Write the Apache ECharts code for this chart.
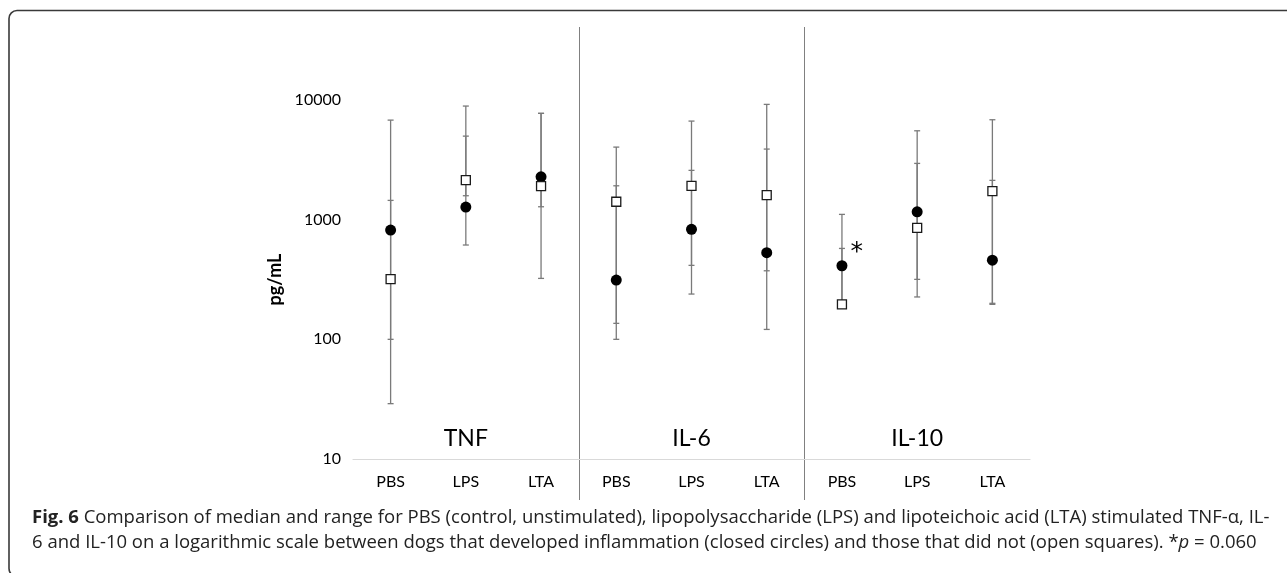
<!DOCTYPE html>
<html><head><meta charset="utf-8">
<script src="https://cdn.jsdelivr.net/npm/echarts@6/dist/echarts.min.js"></script>
<style>html,body{margin:0;padding:0;background:#fff}#c{width:1287px;height:573px}</style>
</head><body><div id="c"></div>
<script>
// ---- data ----
const categories = ['PBS','LPS','LTA','PBS','LPS','LTA','PBS','LPS','LTA'];
const groups = ['TNF','IL-6','IL-10'];
const yTicks = [10, 100, 1000, 10000];
// closed circles: developed inflammation
const circleMedian = [819, 1275, 2280, 313, 830, 530, 412, 1164, 459];
const circleLow    = [100, 614, 1282, 100, 239, 121, 200, 317, 196];
const circleHigh   = [6790, 4990, 7730, 1919, 2582, 3890, 1107, 5530, 2130];
// open squares: did not develop inflammation
const squareMedian = [319, 2140, 1909, 1412, 1919, 1606, 196, 855, 1734];
const squareLow    = [29, 1585, 323, 136, 415, 374, 196, 226, 200];
const squareHigh   = [1449, 8900, 7730, 4040, 6665, 9190, 575, 2952, 6840];
const asteriskIndex = 6;

// ---- layout ----
const W = 1287, H = 573;
const GRID = {left: 353, right: 257, top: 100, bottom: 114};
const gridH = H - GRID.top - GRID.bottom;
const FONT = 'Lato, "Open Sans", sans-serif';
const CAP_FONT = '"Open Sans", "Noto Sans", sans-serif';

const chart = echarts.init(document.getElementById('c'), null, {renderer: 'canvas'});

function errRender(params, api) {
  const x = api.value(0), lo = api.value(1), hi = api.value(2);
  const a = api.coord([x, lo]), b = api.coord([x, hi]);
  const cw = 3;
  const st = {stroke: '#7a7a7a', lineWidth: 1.3};
  return {type: 'group', children: [
    {type: 'line', shape: {x1: a[0], y1: a[1], x2: b[0], y2: b[1]}, style: st},
    {type: 'line', shape: {x1: a[0]-cw, y1: a[1], x2: a[0]+cw, y2: a[1]}, style: st},
    {type: 'line', shape: {x1: b[0]-cw, y1: b[1], x2: b[0]+cw, y2: b[1]}, style: st}
  ]};
}

const circErr = categories.map((c, i) => [i, circleLow[i], circleHigh[i]]);
const sqErr = categories.map((c, i) => [i, squareLow[i], squareHigh[i]]);
const circPts = categories.map((c, i) => {
  const d = {value: [i, circleMedian[i]]};
  if (i === asteriskIndex) {
    d.label = {show: true, formatter: '*', position: 'right', distance: 3, offset: [0, -13],
      fontSize: 25, fontFamily: '"DejaVu Sans", sans-serif', color: '#000'};
  }
  return d;
});
const sqPts = categories.map((c, i) => [i, squareMedian[i]]);

const option = {
  animation: false,
  backgroundColor: '#fff',
  grid: {left: GRID.left, right: GRID.right, top: GRID.top, bottom: GRID.bottom, containLabel: false},
  xAxis: [{
    type: 'category', data: categories, boundaryGap: true,
    axisLine: {show: true, lineStyle: {color: '#d9d9d9', width: 1.2}},
    axisTick: {show: false},
    axisLabel: {fontSize: 16, fontFamily: FONT, color: '#000', margin: 15, interval: 0},
    splitLine: {show: false}
  }, {
    type: 'category', data: groups, boundaryGap: true, position: 'top', offset: -gridH,
    axisLine: {show: false}, axisTick: {show: false},
    axisLabel: {fontSize: 23, fontFamily: FONT, color: '#000', margin: 9, interval: 0},
    splitLine: {show: false}
  }],
  yAxis: {
    type: 'log', logBase: 10, min: yTicks[0], max: yTicks[yTicks.length - 1],
    axisLine: {show: false}, axisTick: {show: false}, splitLine: {show: false},
    axisLabel: {fontSize: 16, fontFamily: FONT, color: '#000', margin: 12,
      formatter: v => String(Math.round(v))},
    name: 'pg/mL', nameLocation: 'middle', nameRotate: 90, nameGap: 49,
    nameTextStyle: {fontSize: 18, fontWeight: 'bold', fontFamily: FONT, color: '#000'}
  },
  series: [
    {type: 'custom', renderItem: errRender, data: circErr, z: 1, xAxisIndex: 0},
    {type: 'custom', renderItem: errRender, data: sqErr, z: 1, xAxisIndex: 0},
    {type: 'scatter', data: circPts, symbol: 'circle', symbolSize: 11, z: 2, xAxisIndex: 0,
      itemStyle: {color: '#000', opacity: 1}},
    {type: 'scatter', data: sqPts, symbol: 'rect', symbolSize: 9, z: 3, xAxisIndex: 0,
      itemStyle: {color: '#fff', borderColor: '#1a1a1a', borderWidth: 1.3, opacity: 1}}
  ]
};
chart.setOption(option);

// separators between groups & frame & caption
const graphics = [];
for (let g = 1; g < groups.length; g++) {
  const i = g * 3;
  const xa = chart.convertToPixel({xAxisIndex: 0}, i - 1);
  const xb = chart.convertToPixel({xAxisIndex: 0}, i);
  const x = Math.round((xa + xb) / 2) + 0.5;
  graphics.push({type: 'line', shape: {x1: x, y1: 27, x2: x, y2: 500},
    style: {stroke: '#808080', lineWidth: 1}, silent: true});
}
graphics.push({type: 'rect', shape: {x: 9, y: 10.5, width: 2000, height: 566, r: 8},
  style: {fill: null, stroke: '#3a3a3a', lineWidth: 1.6}, silent: true});
const rich = {
  b: {fontSize: 18.5, fontFamily: CAP_FONT, fontWeight: 'bold', fill: '#222'},
  r: {fontSize: 18.5, fontFamily: CAP_FONT, fill: '#222'},
  i: {fontSize: 18.5, fontFamily: CAP_FONT, fontStyle: 'italic', fill: '#222'}
};
graphics.push({type: 'text', left: 32, top: 505, silent: true, style: {
  text: '{b|Fig. 6}{r| Comparison of median and range for PBS (control, unstimulated), lipopolysaccharide (LPS) and lipoteichoic acid (LTA) stimulated TNF-α, IL-}\n' +
        '{r|6 and IL-10 on a logarithmic scale between dogs that developed inflammation (closed circles) and those that did not (open squares). *}{i|p}{r| = 0.060}',
  rich: rich, fontSize: 18.5, fontFamily: CAP_FONT, lineHeight: 25, fill: '#222'
}});
chart.setOption({graphic: graphics});
</script></body></html>
